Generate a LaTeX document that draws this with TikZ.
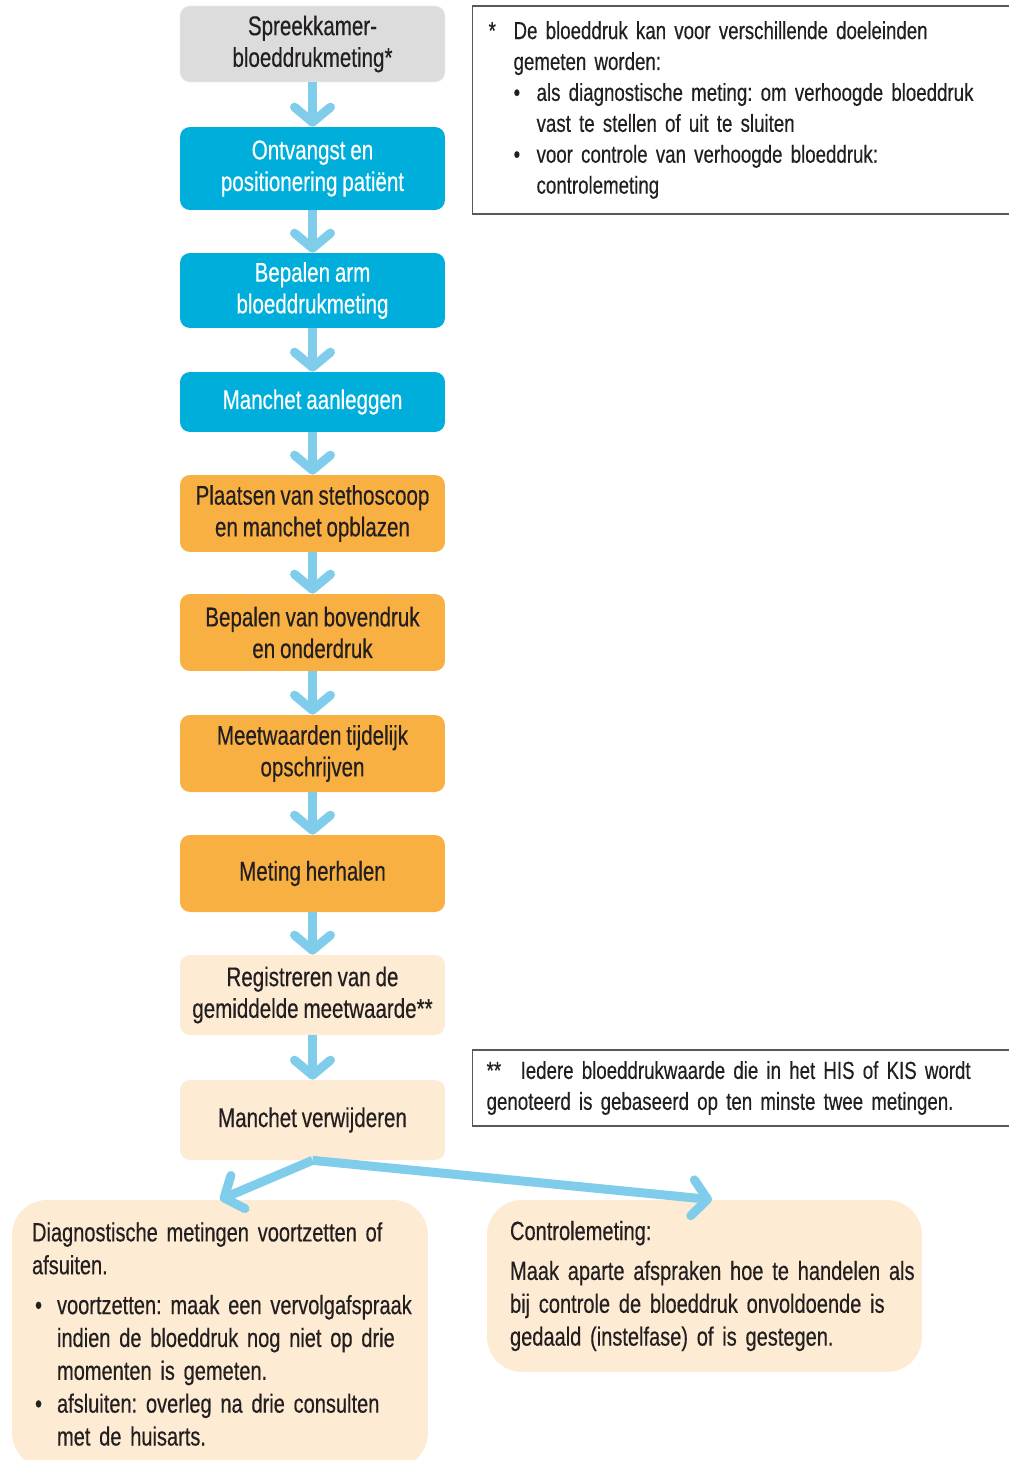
\documentclass[tikz,border=0pt]{standalone}
\usepackage{fontspec}
\setmainfont[FakeStretch=0.76, FakeBold=0.4, WordSpace=0.85]{Liberation Sans}
\frenchspacing
\usetikzlibrary{arrows.meta}

\definecolor{stepgrey}{HTML}{DCDCDC}
\definecolor{stepcyan}{HTML}{00AEDB}
\definecolor{steporange}{HTML}{F9B043}
\definecolor{steppeach}{HTML}{FDEBD3}
\definecolor{flowblue}{HTML}{7FCDEB}
\definecolor{txtdark}{HTML}{231F20}

\tikzset{
    stepbox/.style={rounded corners=0.2cm, minimum width=5.3cm, align=center,
        text=txtdark, font=\fontsize{15.4}{18}\selectfont},
    greybox/.style={stepbox, fill=stepgrey, draw=black!8},
    cyanbox/.style={stepbox, fill=stepcyan, text=white},
    orangebox/.style={stepbox, fill=steporange},
    peachbox/.style={stepbox, fill=steppeach},
    endbox/.style={rounded corners=0.7cm, fill=steppeach, align=left,
        text=txtdark, font=\fontsize{15}{18.7}\selectfont},
    notebox/.style={draw=black!65, line width=0.7pt, align=left, anchor=west,
        text=txtdark, font=\fontsize{14}{17.6}\selectfont},
    flow/.style={flowblue, line width=0.18cm,
        -{Straight Barb[round, length=0.3cm, width=0.72cm]}}
}

\begin{document}
\begin{tikzpicture}[x=0.02cm, y=-0.02cm]
    \useasboundingbox (0,0) rectangle (1008,1460);

    % Steps
    \node[greybox, minimum height=1.52cm] (spreek) at (312.5,44) {Spreekkamer-\\bloeddrukmeting*};
    \node[cyanbox, minimum height=1.66cm] (ontvangst) at (312.5,168.5) {Ontvangst en\\positionering patiënt};
    \node[cyanbox, minimum height=1.5cm] (arm) at (312.5,290.5) {Bepalen arm\\bloeddrukmeting};
    \node[cyanbox, minimum height=1.2cm] (aanleggen) at (312.5,402) {Manchet aanleggen};
    \node[orangebox, minimum height=1.54cm] (plaatsen) at (312.5,513.5) {Plaatsen van stethoscoop\\en manchet opblazen};
    \node[orangebox, minimum height=1.54cm] (bepalen) at (312.5,632.5) {Bepalen van bovendruk\\en onderdruk};
    \node[orangebox, minimum height=1.54cm] (meetwaarden) at (312.5,753.5) {Meetwaarden tijdelijk\\opschrijven};
    \node[orangebox, minimum height=1.54cm] (herhalen) at (312.5,873.5) {Meting herhalen};
    \node[peachbox, minimum height=1.6cm] (registreren) at (312.5,995) {Registreren van de\\gemiddelde meetwaarde**};
    \node[peachbox, minimum height=1.6cm] (verwijderen) at (312.5,1120) {Manchet verwijderen};

    % Outcomes
    \node[endbox, minimum width=8.32cm, minimum height=5.36cm, text width=7.52cm, inner xsep=0.4cm] (diag) at (220,1334) {%
        Diagnostische metingen voortzetten of\\
        afsuiten.\\[4pt]
        \hspace*{0.06cm}\makebox[0.44cm][l]{\textbullet}\makebox[7cm][l]{voortzetten: maak een vervolgafspraak}\\
        \hspace*{0.5cm}indien de bloeddruk nog niet op drie\\
        \hspace*{0.5cm}momenten is gemeten.\\
        \hspace*{0.06cm}\makebox[0.44cm][l]{\textbullet}afsluiten: overleg na drie consulten\\
        \hspace*{0.5cm}met de huisarts.};
    \node[endbox, minimum width=8.7cm, minimum height=3.44cm, text width=7.78cm, inner xsep=0.46cm] (controle) at (704.5,1286) {%
        Controlemeting:\\[4pt]
        \makebox[7.7cm][l]{Maak aparte afspraken hoe te handelen als}\\
        bij controle de bloeddruk onvoldoende is\\
        gedaald (instelfase) of is gestegen.};

    % Notes
    \node[notebox, minimum height=4.16cm, text width=11.5cm, inner xsep=0.32cm] (noot1) at (472,110) {%
        \makebox[0.5cm][l]{*}De bloeddruk kan voor verschillende doeleinden\\
        \hspace*{0.5cm}gemeten worden:\\
        \hspace*{0.5cm}\makebox[0.46cm][l]{\textbullet}als diagnostische meting: om verhoogde bloeddruk\\
        \hspace*{0.96cm}vast te stellen of uit te sluiten\\
        \hspace*{0.5cm}\makebox[0.46cm][l]{\textbullet}voor controle van verhoogde bloeddruk:\\
        \hspace*{0.96cm}controlemeting};
    \node[notebox, minimum height=1.52cm, text width=11.5cm, inner xsep=0.28cm] (noot2) at (472,1088) {%
        \makebox[0.68cm][l]{**}Iedere bloeddrukwaarde die in het HIS of KIS wordt\\
        genoteerd is gebaseerd op ten minste twee metingen.};

    % Arrows
    \draw[flow] (spreek) -- (ontvangst);
    \draw[flow] (ontvangst) -- (arm);
    \draw[flow] (arm) -- (aanleggen);
    \draw[flow] (aanleggen) -- (plaatsen);
    \draw[flow] (plaatsen) -- (bepalen);
    \draw[flow] (bepalen) -- (meetwaarden);
    \draw[flow] (meetwaarden) -- (herhalen);
    \draw[flow] (herhalen) -- (registreren);
    \draw[flow] (registreren) -- (verwijderen);
    \draw[flow] (verwijderen.south) -- (diag.north);
    \draw[flow] (verwijderen.south) -- ([xshift=0.15cm]controle.north);
\end{tikzpicture}
\end{document}
